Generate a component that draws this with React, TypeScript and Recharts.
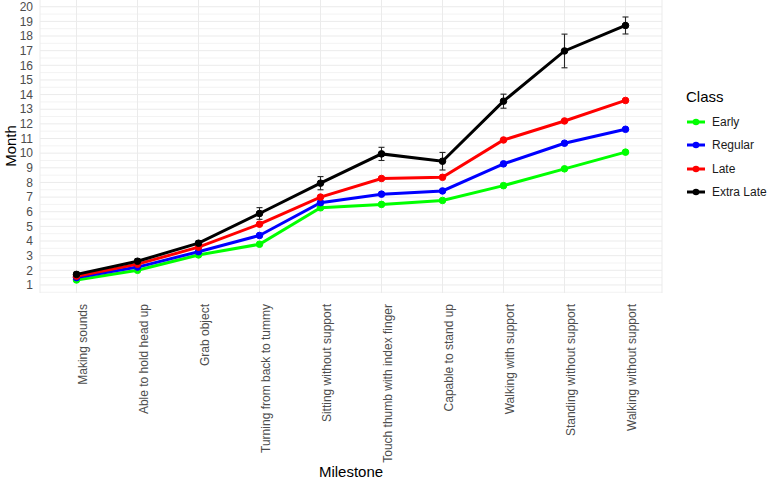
import React from "react";
import { CartesianGrid, ErrorBar, Line, LineChart, XAxis, YAxis } from "recharts";

// Milestone order along the x axis
const MILESTONES = [
  "Making sounds",
  "Able to hold head up",
  "Grab object",
  "Turning from back to tummy",
  "Sitting without support",
  "Touch thumb with index finger",
  "Capable to stand up",
  "Walking with support",
  "Standing without support",
  "Walking without support",
];

// Mean month per class
const EARLY = [1.34, 2.0, 3.05, 3.78, 6.27, 6.5, 6.77, 7.78, 8.93, 10.07];
const REGULAR = [1.5, 2.22, 3.27, 4.38, 6.62, 7.2, 7.42, 9.27, 10.68, 11.63];
const LATE = [1.6, 2.42, 3.58, 5.15, 7.0, 8.27, 8.35, 10.9, 12.2, 13.6];
const EXTRA_LATE = [1.72, 2.62, 3.85, 5.88, 7.95, 9.95, 9.45, 13.55, 16.98, 18.72];
// Half-width of the error bars on the Extra Late series
const EXTRA_LATE_ERR = [0.15, 0.15, 0.15, 0.4, 0.45, 0.45, 0.6, 0.48, 1.15, 0.58];

const Y_TICKS = Array.from({ length: 20 }, (_, i) => i + 1);
const Y_MINOR = Array.from({ length: 20 }, (_, i) => i + 0.5);

const SERIES = [
  { key: "early", name: "Early", color: "#00ff00" },
  { key: "regular", name: "Regular", color: "#0000ff" },
  { key: "late", name: "Late", color: "#ff0000" },
  { key: "extraLate", name: "Extra Late", color: "#000000" },
];

const FONT = "'Liberation Sans', Arial, sans-serif";
const TICK_GREY = "#4d4d4d";

const data = MILESTONES.map((name, i) => ({
  name,
  early: EARLY[i],
  regular: REGULAR[i],
  late: LATE[i],
  extraLate: EXTRA_LATE[i],
  extraLateErr: EXTRA_LATE_ERR[i],
}));

// Rotated category labels, reading bottom-to-top like ggplot's angle = 90
function MilestoneTick(props: any) {
  const { x, y, payload } = props;
  return (
    <text
      transform={`translate(${x + 10},${y + 9}) rotate(-90)`}
      textAnchor="end"
      fill={TICK_GREY}
      fontSize={12}
      fontFamily={FONT}
    >
      {payload.value}
    </text>
  );
}

function ClassLegend() {
  return (
    <div style={{ position: "absolute", left: 686, top: 88, fontFamily: FONT }}>
      <div style={{ fontSize: 15, color: "#000", height: 22 }}>Class</div>
      {SERIES.map((s) => (
        <div
          key={s.key}
          style={{ display: "flex", alignItems: "center", height: 23.5, fontSize: 12, color: "#1a1a1a" }}
        >
          <svg width={24} height={12} style={{ marginRight: 2 }}>
            <line x1={1} y1={6} x2={19} y2={6} stroke={s.color} strokeWidth={3} />
            <circle cx={10} cy={6} r={3.3} fill={s.color} />
          </svg>
          {s.name}
        </div>
      ))}
    </div>
  );
}

export default function App() {
  return (
    <div style={{ position: "absolute", left: 0, top: 0, width: 767, height: 482, background: "#fff" }}>
      <LineChart
        width={767}
        height={482}
        data={data}
        margin={{ top: 0, right: 105, bottom: 0, left: 0 }}
      >
        <CartesianGrid vertical={false} horizontalValues={Y_MINOR} stroke="#f3f3f3" strokeWidth={1} />
        <CartesianGrid horizontalValues={Y_TICKS} stroke="#ebebeb" strokeWidth={1} />
        <XAxis
          dataKey="name"
          scale="point"
          padding={{ left: 36.5, right: 36.5 }}
          interval={0}
          height={189}
          axisLine={false}
          tickLine={false}
          tickSize={0}
          tick={<MilestoneTick />}
        />
        <YAxis
          type="number"
          domain={[0.45, 20.46]}
          allowDataOverflow
          ticks={Y_TICKS}
          interval={0}
          width={40}
          axisLine={false}
          tickLine={false}
          tickSize={0}
          tickMargin={7}
          tick={{ fill: TICK_GREY, fontSize: 12, fontFamily: FONT }}
        />
        {SERIES.map((s) => (
          <Line
            key={s.key}
            type="linear"
            dataKey={s.key}
            name={s.name}
            stroke={s.color}
            strokeWidth={3}
            dot={{ r: 3.3, fill: s.color, stroke: s.color, strokeWidth: 1 }}
            activeDot={false}
            isAnimationActive={false}
          >
            {s.key === "extraLate" && (
              <ErrorBar dataKey="extraLateErr" width={3} stroke="#262626" strokeWidth={1.1} />
            )}
          </Line>
        ))}
      </LineChart>
      <div
        style={{
          position: "absolute",
          left: 351,
          top: 463,
          transform: "translateX(-50%)",
          fontFamily: FONT,
          fontSize: 15,
          color: "#000",
          whiteSpace: "nowrap",
        }}
      >
        Milestone
      </div>
      <div
        style={{
          position: "absolute",
          left: 10,
          top: 146,
          transform: "translate(-50%, -50%) rotate(-90deg)",
          fontFamily: FONT,
          fontSize: 15,
          color: "#000",
          whiteSpace: "nowrap",
        }}
      >
        Month
      </div>
      <ClassLegend />
    </div>
  );
}
